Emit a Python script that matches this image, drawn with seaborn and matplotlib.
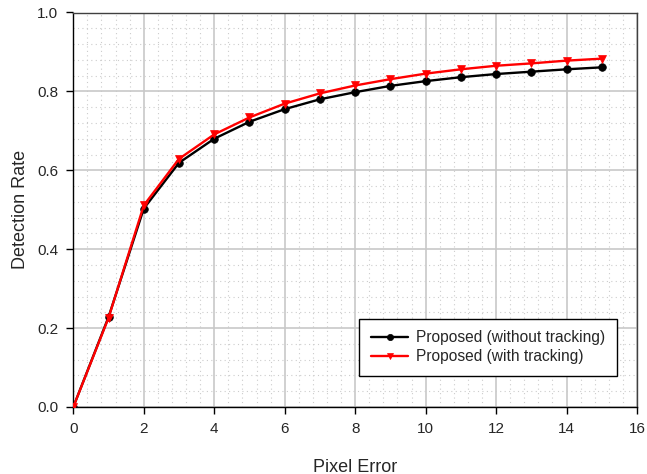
import numpy as np
import pandas as pd
import matplotlib
matplotlib.use("Agg")
import matplotlib.pyplot as plt
from matplotlib.ticker import MultipleLocator
import seaborn as sns

pixel_error = [0, 1, 2, 3, 4, 5, 6, 7, 8, 9, 10, 11, 12, 13, 14, 15]
rate_without = [0.0, 0.228, 0.503, 0.619, 0.680, 0.723, 0.755, 0.780, 0.798, 0.814,
                0.826, 0.836, 0.844, 0.850, 0.856, 0.861]
rate_with = [0.0, 0.226, 0.511, 0.629, 0.691, 0.734, 0.769, 0.795, 0.815, 0.831,
             0.845, 0.856, 0.865, 0.871, 0.878, 0.883]
series_names = ["Proposed (without tracking)", "Proposed (with tracking)"]

df = pd.DataFrame({
    "Pixel Error": pixel_error * 2,
    "Detection Rate": rate_without + rate_with,
    "Method": [series_names[0]] * len(pixel_error) + [series_names[1]] * len(pixel_error),
})

sns.set_theme(style="white")
plt.rcParams["font.family"] = ["Liberation Sans", "DejaVu Sans"]

fig = plt.figure(figsize=(6.47, 4.74), dpi=100)
ax = fig.add_axes([73.3 / 647, 67 / 474, (637 - 73.3) / 647, (407 - 12.5) / 474])

sns.lineplot(data=df, x="Pixel Error", y="Detection Rate", hue="Method", style="Method",
             palette={series_names[0]: "black", series_names[1]: "#ff0000"},
             markers={series_names[0]: "o", series_names[1]: "v"},
             dashes=False, linewidth=1.7, markersize=5.5, markeredgewidth=0.5,
             ax=ax, zorder=5)
for ln in ax.lines:
    ln.set_markeredgecolor(ln.get_color())

ax.set_xlim(0, 16)
ax.set_ylim(0, 1.0)
ax.xaxis.set_major_locator(MultipleLocator(2))
ax.xaxis.set_minor_locator(MultipleLocator(0.4))
ax.yaxis.set_major_locator(MultipleLocator(0.2))
ax.yaxis.set_minor_locator(MultipleLocator(0.04))
ax.yaxis.set_major_formatter(matplotlib.ticker.FormatStrFormatter("%.1f"))

ax.grid(which="major", color="#c8c8c8", linewidth=1.2, linestyle="-", zorder=0)
ax.grid(which="minor", color="#cccccc", linewidth=0.8, linestyle=(0, (1, 3)), zorder=0)
ax.set_axisbelow(True)

for s in ["left", "bottom"]:
    ax.spines[s].set_color("black")
    ax.spines[s].set_linewidth(1.0)
for s in ["top", "right"]:
    ax.spines[s].set_color("#404040")
    ax.spines[s].set_linewidth(1.0)

ax.tick_params(axis="both", which="major", direction="out", length=5, width=1,
               color="black", labelsize=11, bottom=True, left=True, pad=6)
ax.tick_params(axis="both", which="minor", length=0)

ax.set_xlabel("Pixel Error", fontsize=13, labelpad=16)
ax.set_ylabel("Detection Rate", fontsize=13, labelpad=6)

leg = ax.legend(loc="lower right", bbox_to_anchor=(0.9645, 0.0786), borderaxespad=0,
                fontsize=11.2, frameon=True, fancybox=False, edgecolor="black",
                framealpha=1, borderpad=0.75, handlelength=2.4, handletextpad=0.5,
                labelspacing=0.25)
leg.get_frame().set_linewidth(1.0)
leg.set_title(None)
for h in leg.get_lines():
    h.set_markeredgecolor(h.get_color())
    h.set_markersize(4.5)

fig.savefig("out.png", dpi=100)
